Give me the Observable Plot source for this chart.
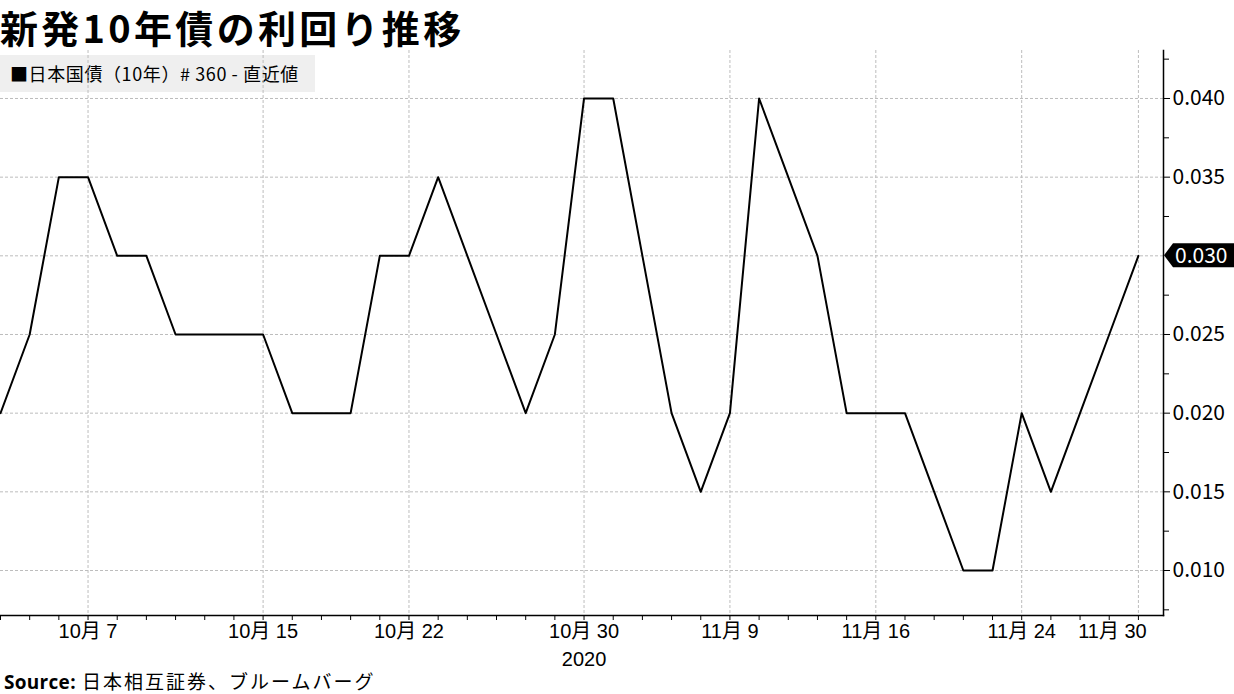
<!DOCTYPE html>
<html><head><meta charset="utf-8">
<script src="https://cdn.jsdelivr.net/npm/d3@7"></script>
<script src="https://cdn.jsdelivr.net/npm/@observablehq/plot@0.6"></script>
<style>
body{margin:0;background:#fff;font-family:"Noto Sans CJK JP","Noto Sans",sans-serif;color:#000;}
#wrap{position:relative;width:1234px;height:694px;overflow:hidden;}
#title{position:absolute;left:0;top:8px;font-size:38px;line-height:38px;font-weight:bold;letter-spacing:3.3px;white-space:nowrap;}
#legend{position:absolute;left:0;top:55px;width:315px;height:37px;background:#efefef;font-size:18px;line-height:37px;padding-left:10px;box-sizing:border-box;white-space:nowrap;z-index:0;letter-spacing:0.6px;}
#chart{position:absolute;left:0;top:46px;z-index:1;}
#chart svg{background:transparent !important;}
#source{position:absolute;left:4px;top:667px;font-size:19px;white-space:nowrap;letter-spacing:2px;}
#source b{font-family:"Open Sans","Noto Sans",sans-serif;font-weight:bold;letter-spacing:0.3px;}
</style></head>
<body>
<div id="wrap">
  <div id="title">新発10年債の利回り推移</div>
  <div id="legend">■日本国債（10年）# 360 - 直近値</div>
  <div id="chart"></div>
  <div id="source"><b>Source:</b> 日本相互証券、ブルームバーグ</div>
</div>
<script>
const dates = ["2020-10-02","2020-10-05","2020-10-06","2020-10-07","2020-10-08","2020-10-09",
  "2020-10-12","2020-10-13","2020-10-14","2020-10-15","2020-10-16","2020-10-19","2020-10-20",
  "2020-10-21","2020-10-22","2020-10-23","2020-10-26","2020-10-27","2020-10-28","2020-10-29",
  "2020-10-30","2020-11-02","2020-11-04","2020-11-05","2020-11-06","2020-11-09","2020-11-10",
  "2020-11-11","2020-11-12","2020-11-13","2020-11-16","2020-11-17","2020-11-18","2020-11-19",
  "2020-11-20","2020-11-24","2020-11-25","2020-11-26","2020-11-27","2020-11-30"];
const yields = [0.020,0.025,0.035,0.035,0.030,0.030,
  0.025,0.025,0.025,0.025,0.020,0.020,0.020,
  0.030,0.030,0.035,0.030,0.025,0.020,0.025,
  0.040,0.040,0.030,0.020,0.015,0.020,0.040,
  0.035,0.030,0.020,0.020,0.020,0.015,0.010,
  0.010,0.020,0.015,0.020,0.025,0.030];
const tickDates = ["2020-10-07","2020-10-15","2020-10-22","2020-10-30","2020-11-09","2020-11-16","2020-11-24","2020-11-30"];
const tickLabels = ["10月 7","10月 15","10月 22","10月 30","11月 9","11月 16","11月 24","11月 30"];
const yearLabel = "2020";
const yearDate = "2020-10-30";
const yTicks = [0.010,0.015,0.020,0.025,0.030,0.035,0.040];
const yMinorTicks = [0.0075,0.0125,0.0175,0.0225,0.0275,0.0325,0.0375,0.0425];

const rows = dates.map((d,i)=>({i, date:d, y:yields[i]}));
const idx = d => dates.indexOf(d);
const tickIdx = tickDates.map(idx);
const labelOf = new Map(tickIdx.map((t,k)=>[t,tickLabels[k]]));
const last = rows[rows.length-1];
const fmt = d3.format(".3f");
const font = "'Noto Sans CJK JP','Noto Sans',sans-serif";
const xfont = "'Liberation Sans','Noto Sans CJK JP',sans-serif";

const tag = (index, scales, values, dims) => {
  const y = scales.y(last.y);
  const x0 = dims.width - dims.marginRight + 1;
  const g = d3.create("svg:g");
  g.append("path")
    .attr("d", `M${x0},${y} L${x0+9},${y-12} H${dims.width} V${y+12} H${x0+9} Z`)
    .attr("fill","#000");
  g.append("text").attr("x", x0+11).attr("y", y).attr("dy","0.36em")
    .attr("text-anchor","start")
    .attr("fill","#fff").attr("font-size",21).attr("font-family",font)
    .text(fmt(last.y));
  return g.node();
};

const chart = Plot.plot({
  width: 1234, height: 622,
  marginTop: 4, marginBottom: 53, marginLeft: 0, marginRight: 71,
  x: {type:"linear", domain:[0, 39.86], axis:null, label:null},
  y: {domain:[0.00714, 0.04305], axis:null, label:null},
  style: {fontFamily: font, fontSize: "21px", color:"#000", overflow:"visible", background:"transparent"},
  marks: [
    Plot.gridY(yTicks, {stroke:"#bdbdbd", strokeOpacity:1, strokeDasharray:"3,2"}),
    Plot.gridX(tickIdx, {stroke:"#bdbdbd", strokeOpacity:1, strokeDasharray:"3,2"}),
    Plot.line(rows, {x:"i", y:"y", stroke:"#000", strokeWidth:2}),
    Plot.frame({anchor:"bottom", stroke:"#000", strokeWidth:1.5}),
    Plot.frame({anchor:"right", stroke:"#000", strokeWidth:1.5}),
    Plot.axisX(rows.map(r=>r.i), {tickSize:5, tickFormat:()=>"", stroke:"#000", label:null}),
    Plot.axisX(tickIdx.slice(0,7), {tickSize:0, tickPadding:8, tickFormat:t=>labelOf.get(t), fill:"#000", label:null, fontFamily:xfont, fontSize:20}),
    Plot.axisX(tickIdx.slice(7), {tickSize:0, tickPadding:8, dx:-26, tickFormat:t=>labelOf.get(t), fill:"#000", label:null, fontFamily:xfont, fontSize:20}),
    Plot.text([yearLabel], {x:idx(yearDate), frameAnchor:"bottom", dy:50, text:d=>d, fill:"#000", fontFamily:"'Liberation Sans',sans-serif", fontSize:20}),
    Plot.axisY(yTicks.filter(v=>Math.abs(v-last.y)>1e-9), {anchor:"right", tickSize:6, tickPadding:3, tickFormat:fmt, fill:"#000", stroke:"#000", label:null}),
    Plot.axisY(yMinorTicks, {anchor:"right", tickSize:5, tickFormat:()=>"", stroke:"#000", label:null}),
    tag
  ]
});
document.getElementById("chart").appendChild(chart);
</script>
</body></html>
